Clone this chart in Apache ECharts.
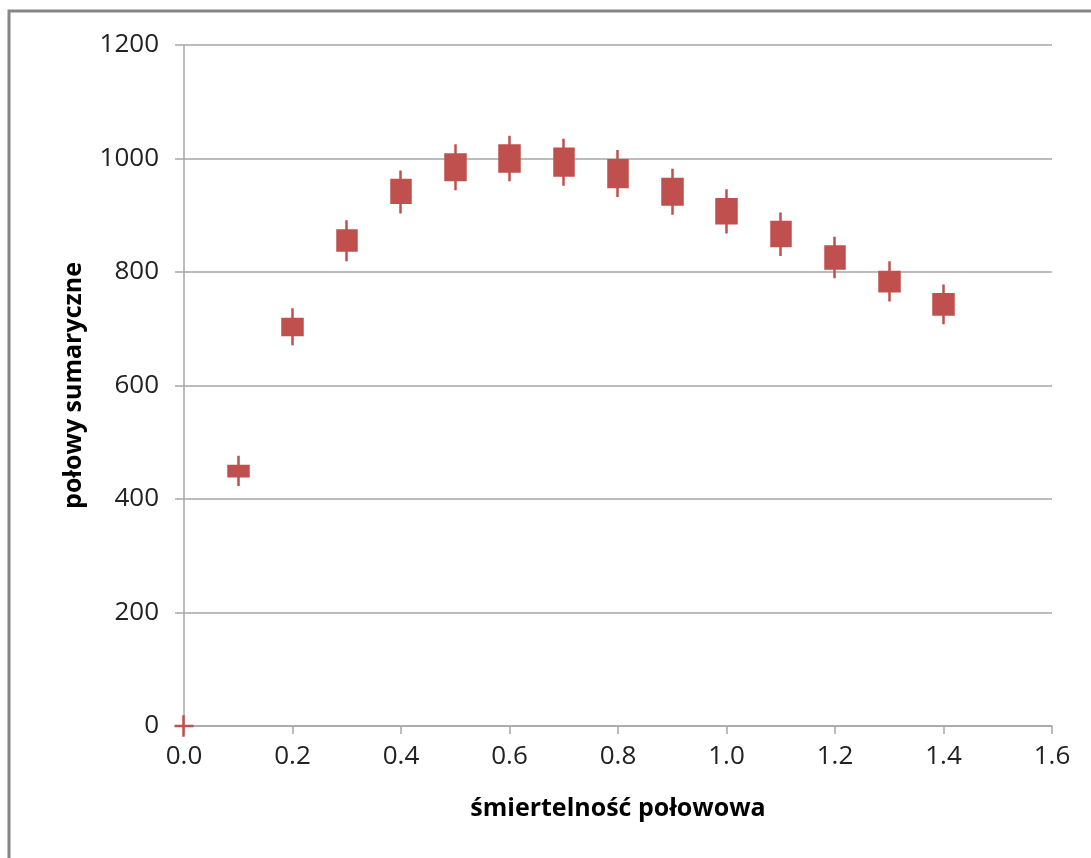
<!DOCTYPE html>
<html>
<head>
<meta charset="utf-8">
<script src="https://cdn.jsdelivr.net/npm/echarts@6/dist/echarts.min.js"></script>
<style>
html, body { margin: 0; padding: 0; background: #fff; }
#main { width: 1091px; height: 858px; }
</style>
</head>
<body>
<div id="main"></div>
<script>
var myChart = echarts.init(document.getElementById('main'));

// śmiertelność połowowa
var categories = ['0.0','0.1','0.2','0.3','0.4','0.5','0.6','0.7','0.8','0.9','1.0','1.1','1.2','1.3','1.4','1.5','1.6'];
// dolna krawędź pudełka, górna krawędź, minimum, maksimum
var boxLow  = [0, 440, 689, 838, 922, 962, 977, 970, 950, 919, 886, 846, 806, 766, 725];
var boxHigh = [0, 458, 717, 873, 962, 1007, 1023, 1017, 997, 964, 928, 888, 845, 800, 761];
var minVal  = [-19, 423, 671, 819, 903, 944, 960, 952, 932, 901, 868, 828, 789, 748, 708];
var maxVal  = [19, 476, 736, 891, 979, 1025, 1040, 1035, 1015, 982, 946, 905, 862, 819, 778];

var candle = [];
for (var i = 0; i < boxLow.length; i++) {
    candle.push([boxLow[i], boxHigh[i], minVal[i], maxVal[i]]);
}

var red = '#c0504d';
var gray = '#a6a6a6';
var font = '"Open Sans", sans-serif';

var option = {
    animation: false,
    grid: {
        left: 184,
        right: 39,
        top: 45,
        bottom: 132
    },
    graphic: [{
        type: 'rect',
        shape: { x: 9, y: 11, width: 1200, height: 1000 },
        style: { fill: 'none', stroke: '#868686', lineWidth: 3 },
        silent: true
    }],
    xAxis: {
        type: 'category',
        data: categories,
        boundaryGap: false,
        name: 'śmiertelność połowowa',
        nameLocation: 'middle',
        nameGap: 70,
        nameTextStyle: { fontFamily: font, fontSize: 25, fontWeight: 'bold', color: '#000' },
        axisLine: { lineStyle: { color: gray, width: 1.5 } },
        axisTick: { interval: 1, length: 8, lineStyle: { color: gray, width: 1.5 } },
        axisLabel: { interval: 1, margin: 18, fontFamily: font, fontSize: 26, color: '#222' },
        splitLine: { show: false }
    },
    yAxis: {
        type: 'value',
        min: 0,
        max: 1200,
        interval: 200,
        name: 'połowy sumaryczne',
        nameLocation: 'middle',
        nameGap: 98,
        nameTextStyle: { fontFamily: font, fontSize: 25, fontWeight: 'bold', color: '#000' },
        axisLine: { show: true, lineStyle: { color: gray, width: 1.5 } },
        axisTick: { show: true, length: 9, lineStyle: { color: gray, width: 1.5 } },
        axisLabel: {
            margin: 25,
            fontFamily: font,
            fontSize: 26,
            color: '#222',
            formatter: function (v) { return String(v); }
        },
        splitLine: { lineStyle: { color: gray, width: 1.5 } }
    },
    series: [{
        type: 'candlestick',
        data: candle,
        barWidth: 20,
        clip: false,
        itemStyle: {
            color: red,
            color0: red,
            borderColor: red,
            borderColor0: red,
            borderWidth: 2.5
        }
    }]
};
myChart.setOption(option);
</script>
</body>
</html>
